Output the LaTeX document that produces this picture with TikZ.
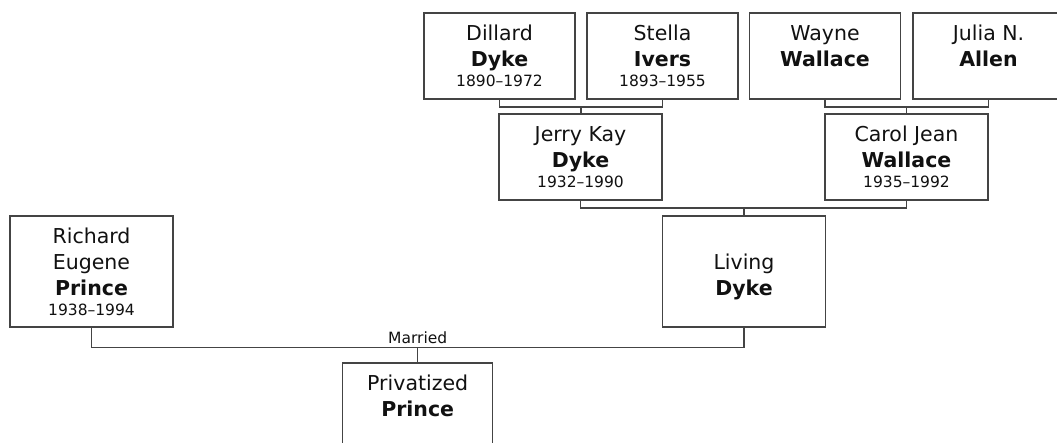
\documentclass[tikz,border=0pt]{standalone}
\usepackage{fontspec}
\setmainfont{DejaVu Sans}
\definecolor{linec}{HTML}{444444}
\definecolor{textc}{HTML}{111111}
\newcommand\yrs[1]{{\fontsize{15.5}{20}\selectfont #1}}
\tikzset{
  person/.style={draw=linec, line width=1.2pt, fill=white, text=textc, inner sep=0pt,
    align=center, font=\fontsize{20.5}{26}\selectfont,
    execute at begin node={\rule{0pt}{18.6pt}}},
  smallbox/.style={person, minimum width=151pt, minimum height=86pt},
  widebox/.style={person, minimum width=163pt, minimum height=86pt},
  tallbox/.style={person, minimum width=163pt, minimum height=111pt},
  childbox/.style={person, minimum width=150pt, minimum height=111pt},
  conn/.style={draw=linec, line width=1.2pt},
  lbl/.style={text=textc, font=\fontsize{15.5}{20}\selectfont, inner sep=0pt},
}
\begin{document}
\begin{tikzpicture}[x=1pt,y=-1pt]
\fill[white] (0,0) rectangle (1057,443);
\useasboundingbox (0,0) rectangle (1057,443);
\clip (0,0) rectangle (1057,443);

% grandparents
\node[smallbox] (dillard) at (499.5,56) {Dillard\\\textbf{Dyke}\\[-6pt]\yrs{1890–1972}};
\node[smallbox] (stella) at (662.5,56) {Stella\\\textbf{Ivers}\\[-6pt]\yrs{1893–1955}};
\node[smallbox] (wayne) at (825,56) {Wayne\\\textbf{Wallace}\\[-6pt]\yrs{}};
\node[smallbox] (julia) at (988.5,56) {Julia N.\\\textbf{Allen}\\[-6pt]\yrs{}};

% parents
\node[widebox] (jerry) at (580.5,157) {Jerry Kay\\\textbf{Dyke}\\[-6pt]\yrs{1932–1990}};
\node[widebox] (carol) at (906.5,157) {Carol Jean\\\textbf{Wallace}\\[-6pt]\yrs{1935–1992}};

% couple
\node[tallbox] (richard) at (91.5,271.5) {Richard\\Eugene\\\textbf{Prince}\\[-6pt]\yrs{1938–1994}};
\node[tallbox] (living) at (744,271.5) {\phantom{Rd}\\Living\\\textbf{Dyke}\\[-6pt]\yrs{}};

% child
\node[childbox] (priv) at (417.7,418.5) {Privatized\\\textbf{Prince}\\\phantom{Rd}\\[-6pt]\yrs{}};

% connectors
\coordinate (ds) at (581,107);
\coordinate (wj) at (906.5,107);
\coordinate (jc) at (744,208);
\coordinate (m) at (417.7,347.7);

\draw[conn] (dillard.south) |- (ds) -| (stella.south);
\draw[conn] (ds) -- (ds |- jerry.north);
\draw[conn] (wayne.south) |- (wj) -| (julia.south);
\draw[conn] (wj) -- (wj |- carol.north);
\draw[conn] (jerry.south) |- (jc) -| (carol.south);
\draw[conn] (jc) -- (jc |- living.north);
\draw[conn] (richard.south) |- (m) -| (living.south);
\draw[conn] (m) -- (m |- priv.north);
\node[lbl, anchor=base] (married) at (417.7,343.3) {Married};
\end{tikzpicture}
\end{document}
